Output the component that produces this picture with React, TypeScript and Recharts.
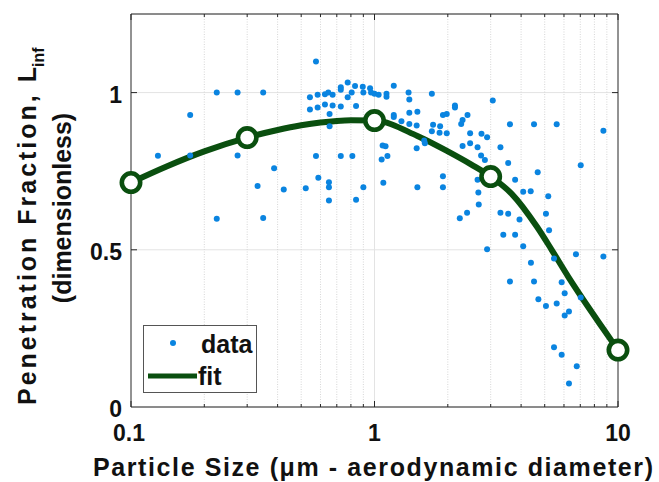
import React from 'react';
import {
  ComposedChart, Scatter, Line, XAxis, YAxis, CartesianGrid, ReferenceLine, Legend, Label,
} from 'recharts';

// ---------- data ----------
const dataSize = [
  0.225, 0.274, 0.175, 0.129, 0.175, 0.274, 0.331, 0.225,
  0.575, 0.349, 0.543, 0.584, 0.626, 0.646, 0.673, 0.727, 0.727, 0.776,
  0.832, 0.895, 0.959, 0.806, 0.776, 0.9, 0.968, 1.0, 1.04,
  0.543, 0.584, 0.626, 0.673, 0.727, 0.84,
  0.654, 0.654, 0.575, 0.727, 0.811,
  0.387, 0.588, 0.65, 0.65, 0.424, 0.522, 0.9,
  0.65, 0.84, 0.349, 1.08, 1.07, 1.087,
  1.2, 1.12, 1.12, 1.38, 1.39, 1.72, 2.14, 2.14, 3.06,
  1.2, 1.2, 1.29, 1.39, 1.5, 1.39, 1.49, 1.74, 1.86, 1.91, 1.98,
  1.72, 1.85, 1.98, 2.41, 2.3, 2.27, 2.47, 2.75, 2.9,
  1.6, 1.61, 1.49, 2.3, 2.47, 2.65, 2.74, 2.84, 3.29,
  1.11, 1.13, 1.5, 1.91, 1.91, 2.65, 2.67, 2.68, 2.4, 2.24, 3.29, 3.38, 2.9,
  3.6, 4.52, 5.6, 8.71, 3.54, 7.03, 4.68, 3.78, 4.08, 4.38,
  5.17, 3.54, 3.94, 5.06, 3.78, 5.21, 4.08, 6.72, 8.71, 5.46,
  4.39, 3.6, 4.52, 5.87, 6.04, 7.03, 4.71, 5.06, 5.6, 6.04, 6.29, 5.46, 5.87, 6.77, 6.29,
];
const dataFraction = [
  1.0, 1.0, 0.929, 0.799, 0.8, 0.8, 0.703, 0.599,
  1.099, 1.0, 0.985, 0.993, 0.995, 1.0, 0.993, 1.017, 1.009, 1.032,
  1.021, 1.019, 1.014, 1.0, 0.985, 1.0, 1.0, 0.996, 0.993,
  0.946, 0.953, 0.962, 0.959, 0.956, 0.957,
  0.932, 0.893, 0.798, 0.798, 0.798,
  0.759, 0.729, 0.715, 0.699, 0.692, 0.696, 0.699,
  0.657, 0.659, 0.601, 0.832, 0.787, 0.713,
  1.022, 0.996, 0.987, 1.0, 0.978, 0.996, 0.959, 0.953, 0.975,
  0.929, 0.922, 0.909, 0.936, 0.939, 0.9, 0.895, 0.898, 0.893, 0.929, 0.932,
  0.877, 0.872, 0.871, 0.929, 0.913, 0.9, 0.871, 0.869, 0.858,
  0.848, 0.839, 0.823, 0.83, 0.839, 0.826, 0.8, 0.786, 0.826,
  0.829, 0.798, 0.699, 0.734, 0.699, 0.723, 0.682, 0.644, 0.618, 0.6, 0.618, 0.548, 0.502,
  0.899, 0.899, 0.899, 0.879, 0.776, 0.769, 0.747, 0.723, 0.685, 0.686,
  0.67, 0.615, 0.596, 0.615, 0.548, 0.562, 0.511, 0.486, 0.479, 0.472,
  0.459, 0.399, 0.399, 0.397, 0.362, 0.348, 0.343, 0.321, 0.329, 0.291, 0.304, 0.19, 0.166, 0.13, 0.075,
];

const fitSize = [0.1, 0.14, 0.2, 0.3, 0.4, 0.5, 0.6, 0.7, 0.8, 1, 1.5, 2, 2.5, 3, 3.66, 4.64, 5.34, 6.25, 7.67, 8.71, 10];
const fitFraction = [0.714, 0.765, 0.813, 0.857, 0.881, 0.896, 0.905, 0.91, 0.912, 0.911, 0.862, 0.813, 0.771, 0.733, 0.678, 0.574, 0.5, 0.414, 0.31, 0.248, 0.181];

const markerSize = [0.1, 0.3, 1, 3, 10];
const markerFraction = [0.714, 0.857, 0.911, 0.733, 0.181];

const xTicks = [0.1, 0.2, 0.3, 0.4, 0.5, 0.6, 0.7, 0.8, 0.9, 1, 2, 3, 4, 5, 6, 7, 8, 9, 10];
const xMajor = [0.1, 1, 10];
const xMajorLabels = ['0.1', '1', '10'];
const xMinor = [0.2, 0.3, 0.4, 0.5, 0.6, 0.7, 0.8, 0.9, 2, 3, 4, 5, 6, 7, 8, 9];
const yTicks = [0, 0.5, 1];
const yTickLabels = ['0', '0.5', '1'];

const scatterData = dataSize.map((x, i) => ({ x, y: dataFraction[i] }));
const fitData = fitSize.map((x, i) => ({ x, y: fitFraction[i] }));
const markerData = markerSize.map((x, i) => ({ x, y: markerFraction[i] }));

// ---------- layout / style ----------
const W = 659;
const H = 482;
const PL = 131;
const PT = 14;
const PR = 618;
const PB = 407;
const AX = '#262626';
const BLUE = '#0a84e0';
const GREEN = '#0a4f0f';
const FONT = "'Liberation Sans', Arial, Helvetica, sans-serif";
const TXT = '#111';

function XTick(props: any) {
  const { x, payload } = props;
  const v = payload.value;
  const mi = xMajor.indexOf(v);
  const len = mi >= 0 ? 6 : 3;
  return (
    <g>
      <line x1={x} y1={PB} x2={x} y2={PB - len} stroke={AX} strokeWidth={1} />
      <line x1={x} y1={PT} x2={x} y2={PT + len} stroke={AX} strokeWidth={1} />
      {mi >= 0 && (
        <text x={x - (v === 0.1 ? 2 : 0)} y={PB + 34} textAnchor="middle" fontFamily={FONT} fontWeight={700} fontSize={23} fill={TXT}>
          {xMajorLabels[mi]}
        </text>
      )}
    </g>
  );
}

function YTick(props: any) {
  const { y, payload } = props;
  const i = yTicks.indexOf(payload.value);
  return (
    <g>
      {payload.value !== 0 && <line x1={PL} y1={y} x2={PL + 6} y2={y} stroke={AX} strokeWidth={1} />}
      {payload.value !== 0 && <line x1={PR} y1={y} x2={PR - 6} y2={y} stroke={AX} strokeWidth={1} />}
      <text x={122} y={y + 10} textAnchor="end" fontFamily={FONT} fontWeight={700} fontSize={23} fill={TXT}>
        {yTickLabels[i]}
      </text>
    </g>
  );
}

function Titles() {
  return (
    <g fontFamily={FONT} fontWeight={700} fill={TXT}>
      <text x={93} y={476} fontSize={25} textLength={560} lengthAdjust="spacing">
        Particle Size (μm - aerodynamic diameter)
      </text>
      <text x={36} y={405} fontSize={25} transform="rotate(-90 36 405)" textLength={338} lengthAdjust="spacing">
        Penetration Fraction, L
      </text>
      <text x={44} y={67} fontSize={16} transform="rotate(-90 44 67)">
        inf
      </text>
      <text x={71} y={208} fontSize={25} textAnchor="middle" transform="rotate(-90 71 208)">
        (dimensionless)
      </text>
    </g>
  );
}

function LegendBox() {
  return (
    <div style={{ width: 114, height: 68, boxSizing: 'border-box', border: '1px solid #555', background: '#fff' }}>
      <svg width={112} height={66} style={{ display: 'block' }}>
        <g transform="translate(-1,-1)">
          <circle cx={30} cy={18} r={3} fill={BLUE} />
          <text x={58} y={28} fontFamily={FONT} fontWeight={700} fontSize={25} fill={TXT}>data</text>
          <line x1={5} y1={51} x2={54} y2={51} stroke={GREEN} strokeWidth={5} />
          <text x={55} y={60} fontFamily={FONT} fontWeight={700} fontSize={25} fill={TXT}>fit</text>
        </g>
      </svg>
    </div>
  );
}

const Dot = (p: any) => <circle cx={p.cx} cy={p.cy} r={3} fill={BLUE} />;
const Ring = (p: any) => <circle cx={p.cx} cy={p.cy} r={9.2} fill="#fff" stroke={GREEN} strokeWidth={4.6} />;

export default function App() {
  return (
    <div style={{ position: 'absolute', left: 0, top: 0, width: W, height: H, background: '#fff' }}>
      <ComposedChart width={W} height={H} margin={{ top: PT, right: W - PR, bottom: 0, left: 0 }}>
        <CartesianGrid vertical={false} stroke="#e3e3e3" />
        <CartesianGrid horizontal={false} verticalValues={xMinor} stroke="#d6d6d6" strokeDasharray="1 1.5" />
        <CartesianGrid horizontal={false} verticalValues={[1]} stroke="#e3e3e3" />
        <XAxis
          dataKey="x"
          type="number"
          scale="log"
          domain={[0.1, 10]}
          ticks={xTicks}
          interval={0}
          tick={<XTick />}
          tickLine={false}
          tickSize={0}
          tickMargin={0}
          axisLine={{ stroke: AX, strokeWidth: 1 }}
          height={H - PB}
        >
          <Label content={() => <Titles />} />
        </XAxis>
        <YAxis
          dataKey="y"
          type="number"
          domain={[0, 1.25]}
          ticks={yTicks}
          interval={0}
          tick={<YTick />}
          tickLine={false}
          tickSize={0}
          tickMargin={0}
          axisLine={{ stroke: AX, strokeWidth: 1 }}
          width={PL}
        />
        <ReferenceLine y={1.25} stroke={AX} strokeWidth={1} />
        <ReferenceLine x={10} stroke={AX} strokeWidth={1} />
        <Scatter name="data" data={scatterData} dataKey="y" fill={BLUE} shape={Dot} isAnimationActive={false} />
        <Line
          name="fit"
          data={fitData}
          dataKey="y"
          type="monotone"
          dot={false}
          activeDot={false}
          stroke={GREEN}
          strokeWidth={6}
          isAnimationActive={false}
        />
        <Scatter data={markerData} dataKey="y" fill="#fff" shape={Ring} isAnimationActive={false} legendType="none" />
        <Legend
          layout="vertical"
          align="center"
          verticalAlign="middle"
          content={() => <LegendBox />}
          wrapperStyle={{ left: 143, top: 325, width: 114, height: 68 }}
        />
      </ComposedChart>
    </div>
  );
}
